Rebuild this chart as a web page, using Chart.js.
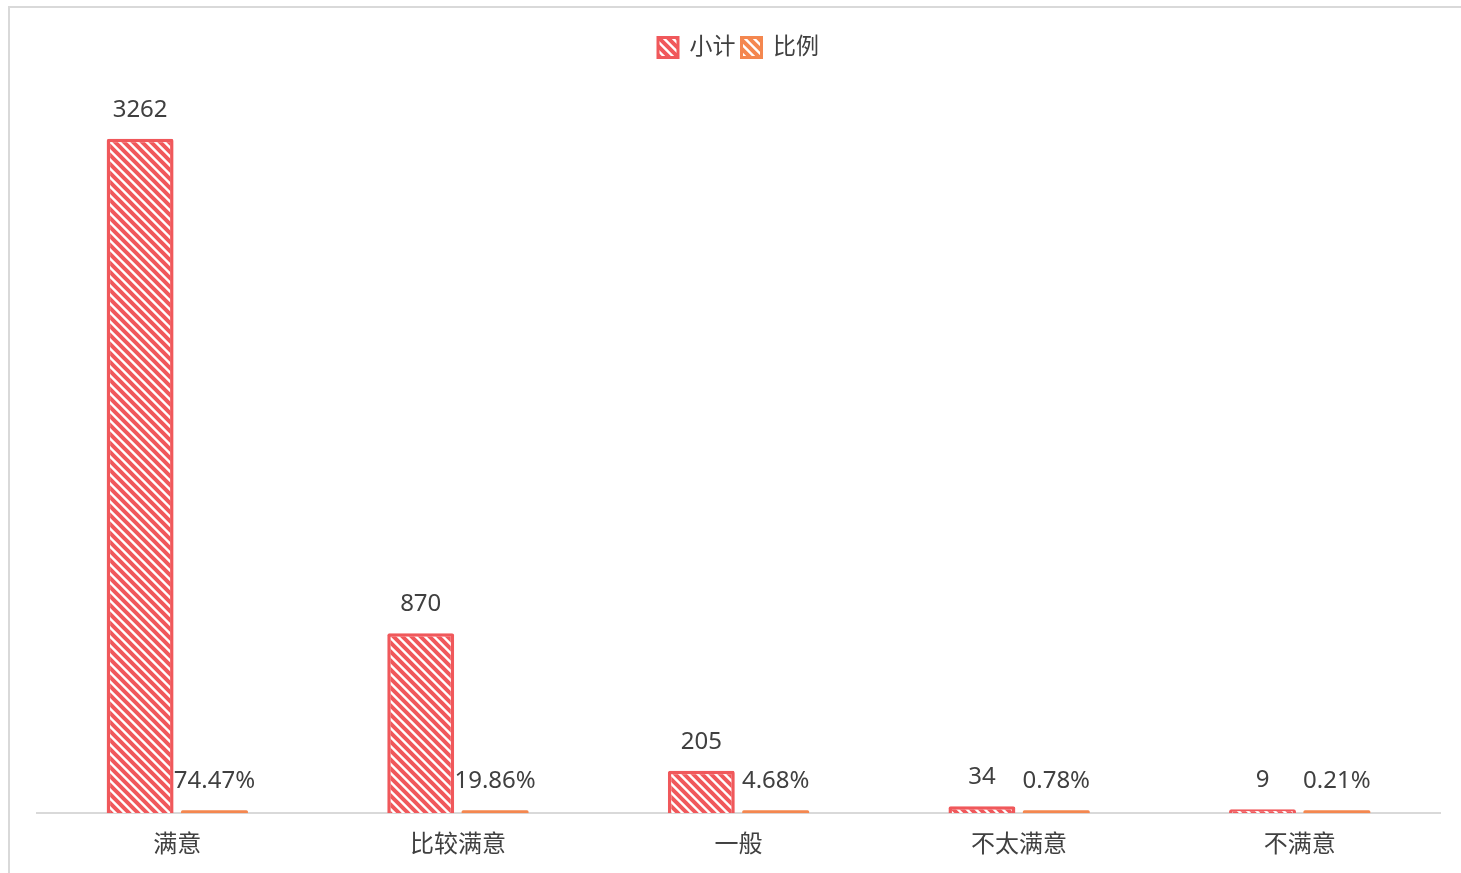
<!DOCTYPE html>
<html>
<head>
<meta charset="utf-8">
<script src="https://cdn.jsdelivr.net/npm/chart.js@4.4.1/dist/chart.umd.min.js"></script>
<style>
  html, body { margin: 0; padding: 0; background: #fff; overflow: hidden; }
  #frame { position: absolute; left: 8px; top: 6px; width: 1600px; height: 1000px; border: 2px solid #d9d9d9; }
  #wrap { position: absolute; left: 0; top: 0; width: 1461px; height: 873px; }
</style>
</head>
<body>
<div id="frame"></div>
<div id="wrap"><canvas id="chartcontainer"></canvas></div>
<script>
var categories = ['满意', '比较满意', '一般', '不太满意', '不满意'];
var counts = [3262, 870, 205, 34, 9];
var ratios = [74.47, 19.86, 4.68, 0.78, 0.21];
var seriesNames = ['小计', '比例'];

var red = '#F0585B';
var orange = '#F4874F';
var fontFam = '"Noto Sans", "Noto Sans CJK SC", sans-serif';

function stripes(color) {
  var c = document.createElement('canvas');
  c.width = 9; c.height = 9;
  var g = c.getContext('2d');
  g.fillStyle = '#fff';
  g.fillRect(0, 0, 9, 9);
  g.strokeStyle = color;
  g.lineWidth = 4;
  g.beginPath();
  g.moveTo(-4.5, -4.5); g.lineTo(13.5, 13.5);
  g.moveTo(-4.5, 4.5); g.lineTo(4.5, 13.5);
  g.moveTo(4.5, -4.5); g.lineTo(13.5, 4.5);
  g.stroke();
  return g.createPattern(c, 'repeat');
}

var labelPlugin = {
  id: 'valueLabels',
  afterDatasetsDraw: function (chart) {
    var ctx = chart.ctx;
    ctx.save();
    ctx.font = '24px ' + fontFam;
    ctx.fillStyle = '#404040';
    ctx.textAlign = 'center';
    ctx.textBaseline = 'middle';
    chart.data.datasets.forEach(function (ds, i) {
      chart.getDatasetMeta(i).data.forEach(function (bar, j) {
        var txt = i === 0 ? String(counts[j]) : ratios[j].toFixed(2) + '%';
        ctx.fillText(txt, bar.x, bar.y - 29);
      });
    });
    ctx.restore();
  }
};

var ctx = document.getElementById('chartcontainer');
var chart = new Chart(ctx, {
  type: 'bar',
  data: {
    labels: categories,
    datasets: [{
      label: seriesNames[0],
      data: counts,
      backgroundColor: stripes(red),
      borderColor: red,
      borderWidth: 3.5,
      borderRadius: 2,
      minBarLength: 4
    }, {
      label: seriesNames[1],
      data: ratios.map(function (v) { return v / 100; }),
      backgroundColor: orange,
      borderColor: orange,
      borderWidth: 0,
      borderRadius: 2,
      minBarLength: 3
    }]
  },
  options: {
    responsive: true,
    maintainAspectRatio: false,
    animation: false,
    categoryPercentage: 0.53,
    barPercentage: 0.9,
    layout: { padding: { top: 30, right: 21, bottom: 3, left: 37 } },
    scales: {
      x: {
        grid: { display: false },
        border: { display: true, color: '#d9d9d9', width: 2 },
        ticks: {
          color: '#404040',
          padding: 10,
          font: { size: 24, family: fontFam }
        }
      },
      y: {
        display: false,
        min: 0,
        max: 3600
      }
    },
    plugins: {
      tooltip: { enabled: false },
      legend: {
        display: true,
        position: 'top',
        labels: {
          color: '#404040',
          boxWidth: 20,
          boxHeight: 20,
          padding: 6,
          useBorderRadius: true,
          borderRadius: 3,
          font: { size: 23, family: fontFam },
          generateLabels: function (chart) {
            return [red, orange].map(function (col, i) {
              return {
                text: seriesNames[i],
                fillStyle: stripes(col),
                strokeStyle: col,
                lineWidth: 3,
                datasetIndex: i,
                fontColor: '#404040'
              };
            });
          }
        }
      }
    }
  },
  plugins: [labelPlugin]
});
</script>
</body>
</html>
